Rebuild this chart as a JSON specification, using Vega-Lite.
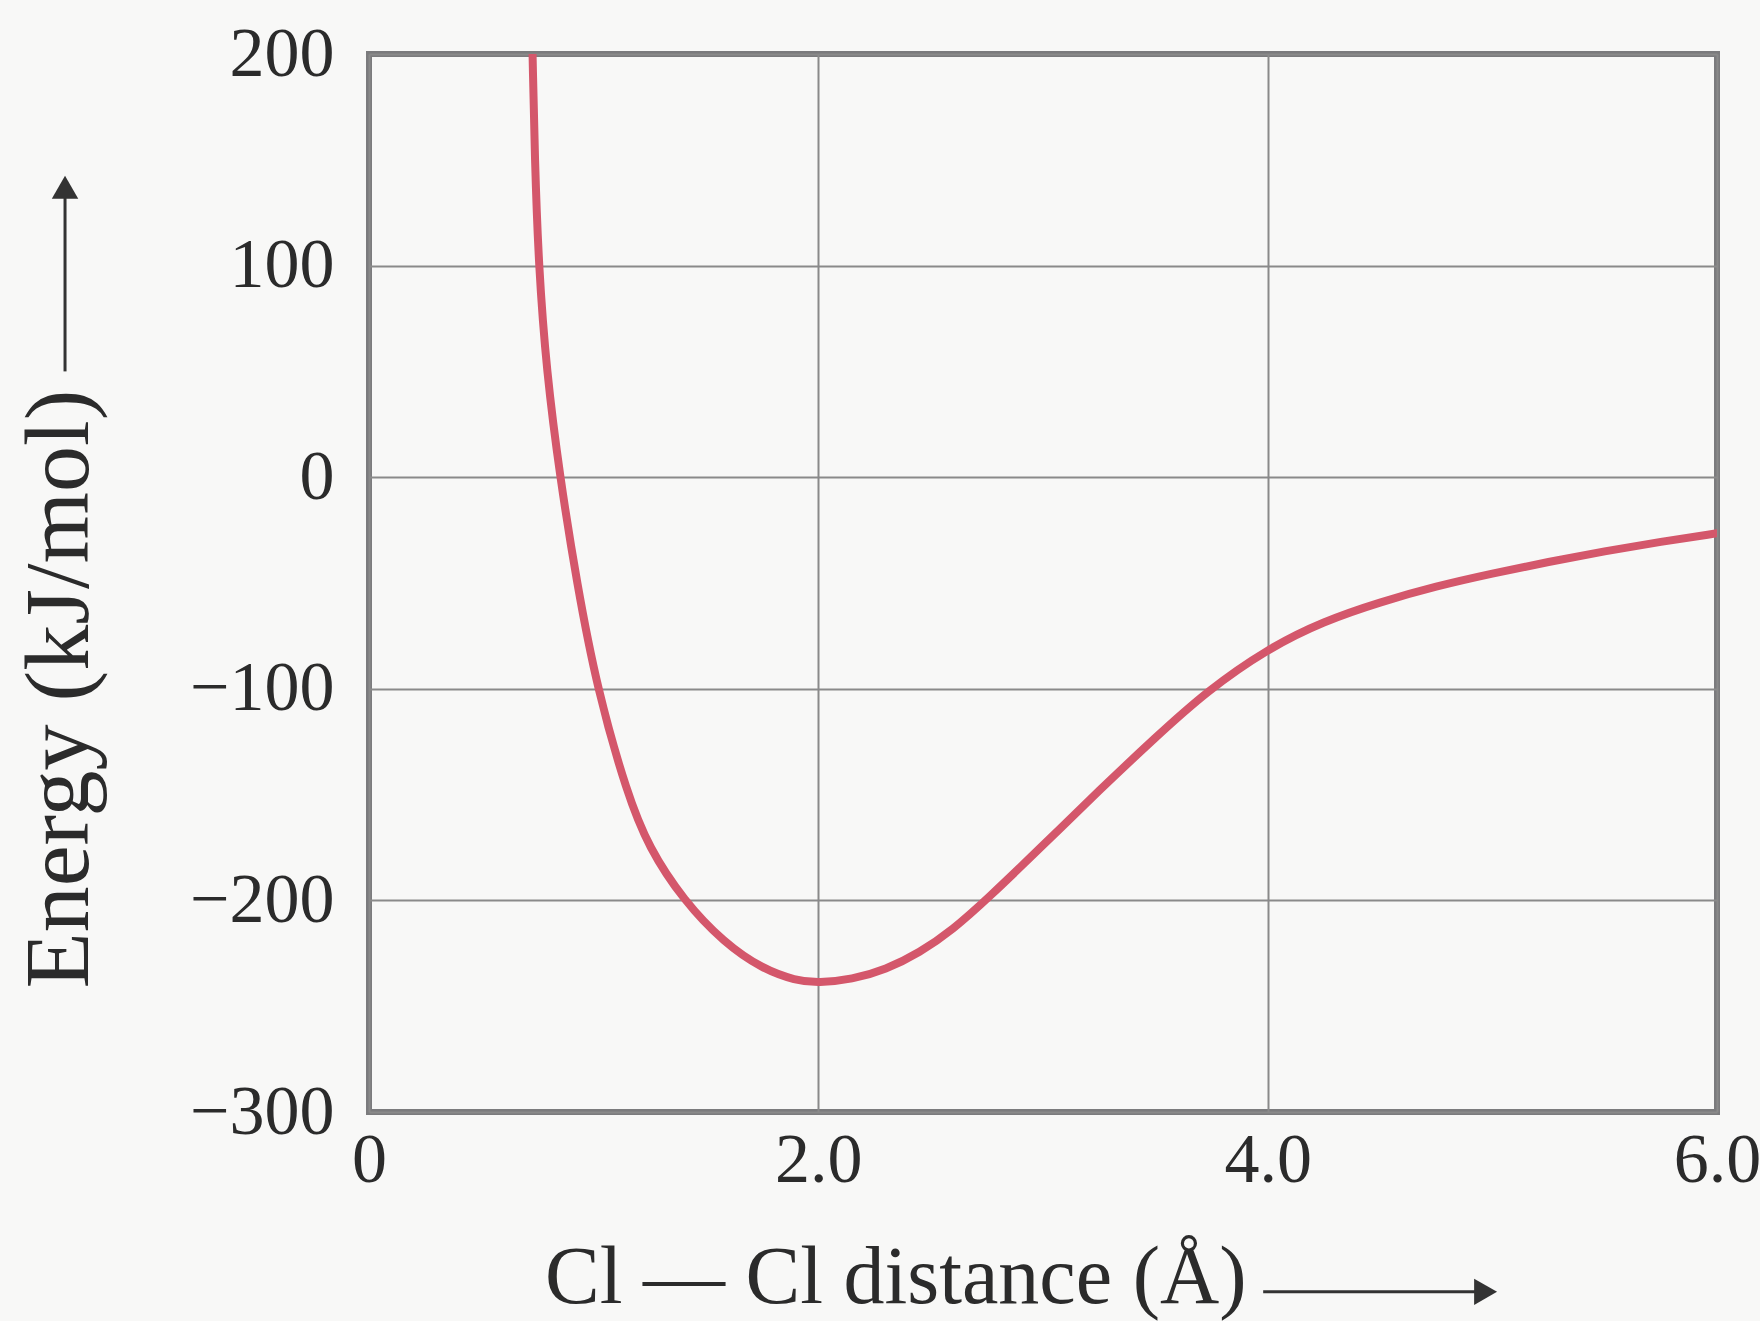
{
  "$schema": "https://vega.github.io/schema/vega-lite/v6.json",
  "width": 1348,
  "height": 1058,
  "autosize": {"type": "none"},
  "padding": {"left": 369, "top": 54, "right": 43, "bottom": 209},
  "background": "#f8f8f7",
  "config": {
    "view": {"stroke": "#7b7b7d", "strokeWidth": 6},
    "font": "Liberation Serif"
  },
  "layer": [
    {
      "data": {
        "values": [
          {"r": 0.728, "E": 200},
          {"r": 0.738, "E": 150},
          {"r": 0.755, "E": 100},
          {"r": 0.790, "E": 50},
          {"r": 0.850, "E": 0},
          {"r": 0.925, "E": -50},
          {"r": 1.015, "E": -100},
          {"r": 1.150, "E": -150},
          {"r": 1.245, "E": -175},
          {"r": 1.400, "E": -200},
          {"r": 1.580, "E": -220},
          {"r": 1.750, "E": -232.3},
          {"r": 1.900, "E": -237.9},
          {"r": 2.000, "E": -239},
          {"r": 2.150, "E": -237.4},
          {"r": 2.300, "E": -232.7},
          {"r": 2.450, "E": -224.8},
          {"r": 2.600, "E": -213.7},
          {"r": 2.750, "E": -199.5},
          {"r": 3.000, "E": -174},
          {"r": 3.250, "E": -148},
          {"r": 3.500, "E": -123},
          {"r": 3.730, "E": -101},
          {"r": 4.000, "E": -81},
          {"r": 4.250, "E": -68},
          {"r": 4.500, "E": -59},
          {"r": 4.750, "E": -51.5},
          {"r": 5.000, "E": -45.5},
          {"r": 5.250, "E": -40},
          {"r": 5.500, "E": -35},
          {"r": 5.750, "E": -30.5},
          {"r": 6.000, "E": -26.5}
        ]
      },
      "mark": {"type": "line", "color": "#d4576b", "strokeWidth": 8, "interpolate": "basis", "clip": true, "strokeCap": "round"},
      "encoding": {
        "x": {
          "field": "r",
          "type": "quantitative",
          "scale": {"domain": [0, 6], "nice": false, "zero": false},
          "axis": {
            "values": [0, 2, 4, 6],
            "labelExpr": "datum.value == 0 ? '0' : format(datum.value, '.1f')",
            "grid": true,
            "gridColor": "#8a8a8a",
            "gridWidth": 2,
            "gridOpacity": 1,
            "domain": false,
            "ticks": false,
            "labelFontSize": 70,
            "labelColor": "#2b2b2b",
            "labelPadding": 14,
            "labelFlush": false,
            "labelOverlap": false,
            "title": "Cl — Cl distance (Å)",
            "titleFontSize": 82,
            "titleFontWeight": "normal",
            "titleColor": "#2b2b2b",
            "titleX": 877,
            "titleY": 190,
            "titleAlign": "right",
            "titleBaseline": "alphabetic"
          }
        },
        "y": {
          "field": "E",
          "type": "quantitative",
          "scale": {"domain": [-300, 200], "nice": false, "zero": false},
          "axis": {
            "values": [-300, -200, -100, 0, 100, 200],
            "labelExpr": "datum.value < 0 ? '−' + (-datum.value) : '' + datum.value",
            "grid": true,
            "gridColor": "#8a8a8a",
            "gridWidth": 2,
            "gridOpacity": 1,
            "domain": false,
            "ticks": false,
            "labelFontSize": 70,
            "labelColor": "#2b2b2b",
            "labelPadding": 35,
            "labelFlush": false,
            "labelOverlap": false,
            "title": "Energy (kJ/mol)",
            "titleFontSize": 92,
            "titleFontWeight": "normal",
            "titleColor": "#2b2b2b",
            "titleAngle": -90,
            "titleX": -282,
            "titleY": 934,
            "titleAlign": "left",
            "titleBaseline": "alphabetic"
          }
        }
      }
    },
    {
      "data": {"values": [{}]},
      "mark": {"type": "rule", "color": "#333333", "strokeWidth": 3, "clip": false},
      "encoding": {
        "x": {"datum": 3.98, "type": "quantitative"},
        "x2": {"datum": 4.95},
        "y": {"datum": -385, "type": "quantitative"}
      }
    },
    {
      "data": {"values": [{}]},
      "mark": {"type": "point", "shape": "triangle-right", "filled": true, "color": "#333333", "opacity": 1, "size": 700, "clip": false},
      "encoding": {
        "x": {"datum": 4.97, "type": "quantitative"},
        "y": {"datum": -385, "type": "quantitative"}
      }
    },
    {
      "data": {"values": [{}]},
      "mark": {"type": "rule", "color": "#333333", "strokeWidth": 3, "clip": false},
      "encoding": {
        "x": {"datum": -1.353, "type": "quantitative"},
        "y": {"datum": 50, "type": "quantitative"},
        "y2": {"datum": 136}
      }
    },
    {
      "data": {"values": [{}]},
      "mark": {"type": "point", "shape": "triangle-up", "filled": true, "color": "#333333", "opacity": 1, "size": 700, "clip": false},
      "encoding": {
        "x": {"datum": -1.353, "type": "quantitative"},
        "y": {"datum": 137, "type": "quantitative"}
      }
    }
  ]
}
